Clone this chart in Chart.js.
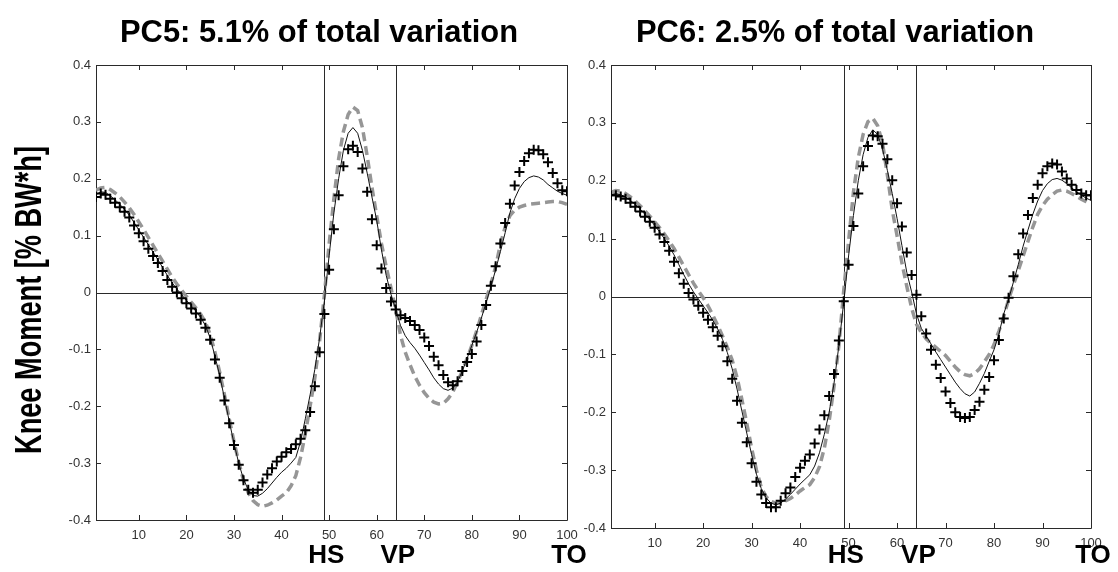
<!DOCTYPE html>
<html>
<head>
<meta charset="utf-8">
<script src="https://cdn.jsdelivr.net/npm/chart.js@4.4.1/dist/chart.umd.min.js"></script>
<style>
  body { margin: 0; background: #fff; width: 1118px; height: 572px; overflow: hidden; position: relative; }
  .panel { position: absolute; top: 0; height: 572px; }
  #left { left: 0; width: 600px; }
  #right { left: 530px; width: 588px; }
</style>
</head>
<body>
<div class="panel" id="left"><canvas id="pc5" width="600" height="572"></canvas></div>
<div class="panel" id="right"><canvas id="pc6" width="588" height="572"></canvas></div>
<script>
// % of stance, one value per frame
const pctStance = Array.from({ length: 100 }, (_, i) => i + 1);
const xTicks = [10, 20, 30, 40, 50, 60, 70, 80, 90, 100];
const yTicks = [-0.4, -0.3, -0.2, -0.1, 0, 0.1, 0.2, 0.3, 0.4];
const eventNames = ['HS', 'VP', 'TO'];
const eventPos = [49, 64, 100];
const yTitle = 'Knee Moment [% BW*h]';

// PC5
const pc5Title = 'PC5: 5.1% of total variation';
const pc5Plus = [
  0.168, 0.174, 0.172, 0.165, 0.158, 0.150, 0.142, 0.132, 0.118, 0.104,
  0.090, 0.077, 0.064, 0.052, 0.038, 0.022, 0.010, 0.000, -0.010, -0.019,
  -0.028, -0.037, -0.048, -0.062, -0.083, -0.118, -0.150, -0.190, -0.230, -0.268,
  -0.303, -0.330, -0.347, -0.352, -0.347, -0.334, -0.320, -0.309, -0.297, -0.289,
  -0.281, -0.275, -0.267, -0.257, -0.242, -0.210, -0.165, -0.105, -0.038, 0.040,
  0.111, 0.171, 0.222, 0.252, 0.258, 0.247, 0.218, 0.177, 0.129, 0.083,
  0.042, 0.008, -0.016, -0.030, -0.040, -0.045, -0.050, -0.057, -0.066, -0.079,
  -0.094, -0.113, -0.128, -0.145, -0.158, -0.163, -0.156, -0.138, -0.122, -0.108,
  -0.086, -0.057, -0.022, 0.012, 0.046, 0.086, 0.122, 0.156, 0.188, 0.212,
  0.231, 0.245, 0.251, 0.250, 0.243, 0.229, 0.210, 0.192, 0.180, 0.178
];
const pc5Mean = [
  0.172, 0.177, 0.176, 0.170, 0.163, 0.155, 0.146, 0.136, 0.123, 0.110,
  0.097, 0.084, 0.071, 0.058, 0.044, 0.030, 0.017, 0.006, -0.004, -0.014,
  -0.023, -0.033, -0.044, -0.058, -0.080, -0.112, -0.146, -0.186, -0.226, -0.265,
  -0.300, -0.328, -0.347, -0.357, -0.358, -0.353, -0.345, -0.335, -0.325, -0.316,
  -0.309, -0.300, -0.290, -0.262, -0.222, -0.180, -0.135, -0.080, -0.015, 0.065,
  0.140, 0.200, 0.250, 0.280, 0.290, 0.280, 0.250, 0.210, 0.168, 0.127,
  0.075, 0.030, -0.003, -0.030, -0.058, -0.076, -0.088, -0.098, -0.110, -0.123,
  -0.136, -0.150, -0.161, -0.169, -0.172, -0.168, -0.157, -0.138, -0.116, -0.093,
  -0.070, -0.045, -0.018, 0.010, 0.040, 0.072, 0.105, 0.140, 0.165, 0.183,
  0.195, 0.202, 0.205, 0.203, 0.198, 0.190, 0.184, 0.178, 0.174, 0.171
];
const pc5Dash = [
  0.180, 0.184, 0.185, 0.181, 0.175, 0.168, 0.159, 0.149, 0.137, 0.124,
  0.111, 0.097, 0.083, 0.069, 0.055, 0.041, 0.027, 0.015, 0.004, -0.007,
  -0.017, -0.027, -0.038, -0.052, -0.074, -0.105, -0.140, -0.180, -0.222, -0.262,
  -0.298, -0.330, -0.352, -0.366, -0.373, -0.376, -0.374, -0.370, -0.365, -0.358,
  -0.352, -0.340, -0.322, -0.290, -0.248, -0.200, -0.150, -0.085, -0.005, 0.085,
  0.165, 0.235, 0.283, 0.313, 0.326, 0.320, 0.290, 0.240, 0.185, 0.135,
  0.086, 0.045, 0.008, -0.030, -0.075, -0.105, -0.127, -0.147, -0.163, -0.176,
  -0.186, -0.193, -0.196, -0.195, -0.187, -0.175, -0.157, -0.138, -0.116, -0.093,
  -0.068, -0.040, -0.012, 0.015, 0.045, 0.085, 0.115, 0.135, 0.145, 0.150,
  0.153, 0.155, 0.156, 0.157, 0.158, 0.159, 0.160, 0.160, 0.158, 0.155
];

// PC6
const pc6Title = 'PC6: 2.5% of total variation';
const pc6Plus = [
  0.175, 0.175, 0.173, 0.169, 0.162, 0.155, 0.147, 0.138, 0.129, 0.119,
  0.107, 0.094, 0.079, 0.060, 0.040, 0.022, 0.006, -0.005, -0.016, -0.028,
  -0.040, -0.053, -0.068, -0.086, -0.112, -0.142, -0.180, -0.218, -0.252, -0.288,
  -0.320, -0.342, -0.357, -0.364, -0.364, -0.353, -0.340, -0.330, -0.312, -0.296,
  -0.284, -0.273, -0.254, -0.230, -0.205, -0.172, -0.134, -0.076, -0.008, 0.055,
  0.122, 0.178, 0.225, 0.260, 0.278, 0.277, 0.264, 0.237, 0.201, 0.161,
  0.121, 0.076, 0.037, 0.003, -0.034, -0.064, -0.092, -0.118, -0.141, -0.164,
  -0.184, -0.200, -0.208, -0.210, -0.208, -0.196, -0.182, -0.161, -0.139, -0.110,
  -0.075, -0.038, -0.002, 0.035, 0.073, 0.109, 0.141, 0.170, 0.193, 0.213,
  0.225, 0.230, 0.228, 0.216, 0.204, 0.193, 0.184, 0.178, 0.175, 0.175
];
const pc6Mean = [
  0.176, 0.178, 0.176, 0.172, 0.166, 0.159, 0.151, 0.142, 0.133, 0.123,
  0.112, 0.100, 0.087, 0.072, 0.055, 0.038, 0.022, 0.008, -0.004, -0.016,
  -0.028, -0.041, -0.056, -0.074, -0.097, -0.125, -0.160, -0.198, -0.236, -0.273,
  -0.307, -0.332, -0.348, -0.357, -0.360, -0.357, -0.350, -0.342, -0.333, -0.324,
  -0.316, -0.308, -0.293, -0.270, -0.238, -0.200, -0.150, -0.085, -0.010, 0.070,
  0.140, 0.200, 0.245, 0.275, 0.288, 0.280, 0.255, 0.218, 0.178, 0.135,
  0.088, 0.042, 0.008, -0.030, -0.055, -0.068, -0.082, -0.096, -0.109, -0.122,
  -0.135, -0.148, -0.159, -0.168, -0.172, -0.165, -0.150, -0.133, -0.112, -0.092,
  -0.065, -0.030, -0.005, 0.025, 0.055, 0.087, 0.115, 0.142, 0.165, 0.183,
  0.195, 0.202, 0.204, 0.201, 0.195, 0.188, 0.181, 0.175, 0.170, 0.166
];
const pc6Dash = [
  0.180, 0.183, 0.182, 0.178, 0.172, 0.165, 0.157, 0.148, 0.139, 0.129,
  0.119, 0.108, 0.096, 0.083, 0.068, 0.053, 0.038, 0.023, 0.010, -0.002,
  -0.016, -0.032, -0.050, -0.068, -0.088, -0.110, -0.140, -0.178, -0.219, -0.262,
  -0.300, -0.330, -0.346, -0.354, -0.357, -0.356, -0.353, -0.349, -0.343, -0.336,
  -0.330, -0.325, -0.313, -0.294, -0.262, -0.215, -0.155, -0.085, 0.010, 0.095,
  0.180, 0.240, 0.280, 0.302, 0.308, 0.295, 0.265, 0.210, 0.150, 0.105,
  0.058, 0.018, -0.020, -0.048, -0.062, -0.073, -0.081, -0.088, -0.095, -0.102,
  -0.112, -0.122, -0.130, -0.135, -0.137, -0.133, -0.125, -0.113, -0.100, -0.083,
  -0.060, -0.035, -0.005, 0.020, 0.045, 0.070, 0.095, 0.120, 0.142, 0.157,
  0.168, 0.176, 0.182, 0.184, 0.182, 0.178, 0.173, 0.168, 0.164, 0.160
];

const FONT = '"Liberation Sans", Arial, sans-serif';
const INK = '#2a2a2a';

function toPoints(values) {
  return values.map((v, i) => ({ x: pctStance[i], y: v }));
}

// frame, inward ticks, reference lines and the texts matlab put round the axes
const decorations = {
  id: 'decorations',
  beforeDatasetsDraw(chart) {
    const { ctx, chartArea: a, scales: { x, y } } = chart;
    const px = v => Math.round(v) + 0.5;
    ctx.save();
    ctx.strokeStyle = INK;
    ctx.lineWidth = 1;
    ctx.beginPath();
    ctx.rect(px(a.left), px(a.top), Math.round(a.right - a.left), Math.round(a.bottom - a.top));
    // ticks point inward on all four sides
    xTicks.forEach(t => {
      const xx = px(x.getPixelForValue(t));
      ctx.moveTo(xx, a.bottom); ctx.lineTo(xx, a.bottom - 5);
      ctx.moveTo(xx, a.top); ctx.lineTo(xx, a.top + 5);
    });
    yTicks.forEach(t => {
      const yy = px(y.getPixelForValue(t));
      ctx.moveTo(a.left, yy); ctx.lineTo(a.left + 5, yy);
      ctx.moveTo(a.right, yy); ctx.lineTo(a.right - 5, yy);
    });
    // zero line, heel strike and vertical peak
    const y0 = px(y.getPixelForValue(0));
    ctx.moveTo(a.left, y0); ctx.lineTo(a.right, y0);
    eventPos.slice(0, 2).forEach(e => {
      const xx = px(x.getPixelForValue(e));
      ctx.moveTo(xx, a.top); ctx.lineTo(xx, a.bottom);
    });
    ctx.stroke();
    ctx.restore();
  },
  afterDraw(chart, args, opts) {
    const { ctx, scales: { x } } = chart;
    ctx.save();
    ctx.fillStyle = '#000';

    // panel title, squeezed a little like the original
    ctx.font = 'bold 32px ' + FONT;
    let sx = opts.titleWidth / ctx.measureText(opts.title).width;
    ctx.save();
    ctx.translate(opts.titleX, 42);
    ctx.scale(sx, 1);
    ctx.textAlign = 'center';
    ctx.textBaseline = 'alphabetic';
    ctx.fillText(opts.title, 0, 0);
    ctx.restore();

    if (opts.yTitle) {
      ctx.font = 'bold 36px ' + FONT;
      sx = 308 / ctx.measureText(opts.yTitle).width;
      ctx.save();
      ctx.translate(41, 300);
      ctx.rotate(-Math.PI / 2);
      ctx.scale(sx, 1);
      ctx.textAlign = 'center';
      ctx.textBaseline = 'alphabetic';
      ctx.fillText(opts.yTitle, 0, 0);
      ctx.restore();
    }

    ctx.font = 'bold 26px ' + FONT;
    ctx.textAlign = 'center';
    ctx.textBaseline = 'alphabetic';
    eventNames.forEach((name, i) => {
      ctx.fillText(name, x.getPixelForValue(eventPos[i]) + 2, 563);
    });
    ctx.restore();
  }
};

function makePanel(id, title, plus, mean, dash, dims) {
  return new Chart(document.getElementById(id), {
    type: 'line',
    data: {
      datasets: [
        {
          data: toPoints(plus),
          showLine: false,
          pointStyle: 'cross',
          pointRadius: 5,
          pointBorderWidth: 2,
          pointBorderColor: '#000'
        },
        {
          data: toPoints(mean),
          borderColor: '#111',
          borderWidth: 1,
          pointRadius: 0
        },
        {
          data: toPoints(dash),
          borderColor: 'rgb(150,150,150)',
          borderWidth: 3.5,
          borderDash: [9, 5],
          pointRadius: 0
        }
      ]
    },
    options: {
      responsive: false,
      animation: false,
      events: [],
      layout: { padding: { top: 65, left: 0, right: dims.right, bottom: 0 } },
      plugins: {
        legend: { display: false },
        tooltip: { enabled: false },
        decorations: { title: title, titleX: dims.titleX, titleWidth: 398, yTitle: dims.yTitle }
      },
      scales: {
        x: {
          type: 'linear',
          min: 1,
          max: 100,
          afterBuildTicks: s => { s.ticks = xTicks.map(v => ({ value: v })); },
          afterFit: s => { s.height = dims.xh; },
          grid: { display: false, drawTicks: false },
          border: { display: false },
          ticks: { padding: 8, color: '#333', font: { family: FONT, size: 13 }, maxRotation: 0 }
        },
        y: {
          min: -0.4,
          max: 0.4,
          afterBuildTicks: s => { s.ticks = yTicks.map(v => ({ value: v })); },
          afterFit: s => { s.width = dims.yw; },
          grid: { display: false, drawTicks: false },
          border: { display: false },
          ticks: {
            padding: 5,
            color: '#333',
            font: { family: FONT, size: 13 },
            callback: v => (Math.abs(v) < 1e-9 ? '0' : v.toFixed(1))
          }
        }
      }
    },
    plugins: [decorations]
  });
}

makePanel('pc5', pc5Title, pc5Plus, pc5Mean, pc5Dash,
  { right: 33, yw: 96, xh: 52, titleX: 319, yTitle: yTitle });
makePanel('pc6', pc6Title, pc6Plus, pc6Mean, pc6Dash,
  { right: 27, yw: 81, xh: 44, titleX: 305, yTitle: null });
</script>
</body>
</html>
